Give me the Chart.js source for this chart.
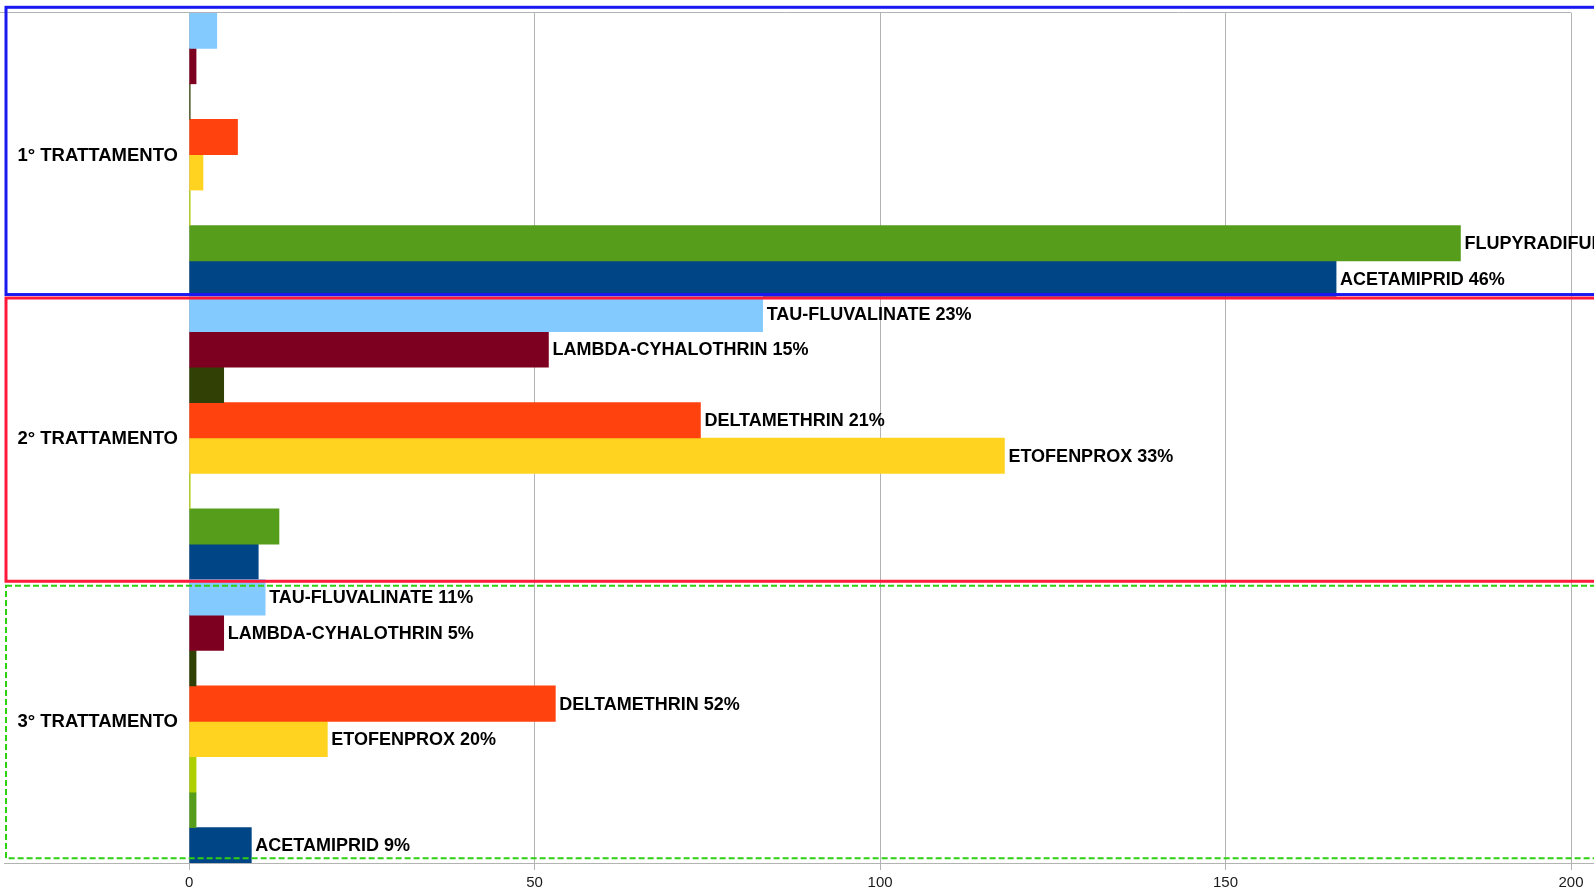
<!DOCTYPE html>
<html>
<head>
<meta charset="utf-8">
<script src="https://cdn.jsdelivr.net/npm/chart.js@4/dist/chart.umd.min.js"></script>
<style>
  html, body { margin: 0; padding: 0; background: #ffffff; }
  #wrap { width: 1594px; height: 889px; position: relative; overflow: hidden; }
</style>
</head>
<body>
<div id="wrap"><canvas id="c" width="1594" height="889"></canvas></div>
<script>
// ---- data ----
const categories = ['1° TRATTAMENTO', '2° TRATTAMENTO', '3° TRATTAMENTO'];
const seriesNames = ['TAU-FLUVALINATE', 'LAMBDA-CYHALOTHRIN', 'SERIE 3', 'DELTAMETHRIN', 'ETOFENPROX', 'SERIE 6', 'FLUPYRADIFURONE', 'ACETAMIPRID'];
const tauFluvalinate    = [4, 83, 11];
const lambdaCyhalothrin = [1, 52, 5];
const serie3            = [0.15, 5, 1];
const deltamethrin      = [7, 74, 53];
const etofenprox        = [2, 118, 20];
const serie6            = [0.15, 0.15, 1];
const flupyradifurone   = [184, 13, 1];
const acetamiprid       = [166, 10, 9];
const tauLabels    = ['', 'TAU-FLUVALINATE 23%', 'TAU-FLUVALINATE 11%'];
const lambdaLabels = ['', 'LAMBDA-CYHALOTHRIN 15%', 'LAMBDA-CYHALOTHRIN 5%'];
const serie3Labels = ['', '', ''];
const deltaLabels  = ['', 'DELTAMETHRIN 21%', 'DELTAMETHRIN 52%'];
const etoLabels    = ['', 'ETOFENPROX 33%', 'ETOFENPROX 20%'];
const serie6Labels = ['', '', ''];
const fluLabels    = ['FLUPYRADIFURONE 51%', '', ''];
const acetLabels   = ['ACETAMIPRID 46%', '', 'ACETAMIPRID 9%'];
const tickValues = [0, 50, 100, 150, 200];

const seriesValues = [tauFluvalinate, lambdaCyhalothrin, serie3, deltamethrin, etofenprox, serie6, flupyradifurone, acetamiprid];
const seriesLabels = [tauLabels, lambdaLabels, serie3Labels, deltaLabels, etoLabels, serie6Labels, fluLabels, acetLabels];
const seriesColors = ['#83CAFF', '#7E0021', '#314004', '#FF420E', '#FFD320', '#AECF00', '#579D1C', '#004586'];

const FONT = "'Liberation Sans', Arial, sans-serif";

const decorPlugin = {
  id: 'decor',
  beforeDatasetsDraw(chart) {
    const ctx = chart.ctx, a = chart.chartArea;
    ctx.save();
    ctx.strokeStyle = '#b3b3b3';
    ctx.lineWidth = 1;
    ctx.beginPath();
    ctx.moveTo(0, Math.round(a.top) - 0.5);
    ctx.lineTo(a.right + 0.5, Math.round(a.top) - 0.5);
    ctx.stroke();
    ctx.restore();
  },
  afterDatasetsDraw(chart) {
    const ctx = chart.ctx;
    ctx.save();
    ctx.font = 'bold 18px ' + FONT;
    ctx.fillStyle = '#000';
    ctx.textBaseline = 'middle';
    ctx.textAlign = 'left';
    chart.data.datasets.forEach((ds, i) => {
      const meta = chart.getDatasetMeta(i);
      meta.data.forEach((el, j) => {
        const t = seriesLabels[i][j];
        if (t) ctx.fillText(t, el.x + 4, el.y + 1);
      });
    });
    ctx.restore();
  },
  afterDraw(chart) {
    const ctx = chart.ctx, a = chart.chartArea;
    const ys = chart.scales.y;
    const band = ys.getPixelForValue(1) - ys.getPixelForValue(0);
    ctx.save();
    // axis line
    ctx.strokeStyle = '#b3b3b3';
    ctx.lineWidth = 1;
    ctx.beginPath();
    ctx.moveTo(a.left, Math.round(a.bottom) + 0.5);
    ctx.lineTo(chart.width, Math.round(a.bottom) + 0.5);
    ctx.stroke();
    // category labels
    ctx.font = 'bold 18.5px ' + FONT;
    ctx.fillStyle = '#000';
    ctx.textAlign = 'right';
    ctx.textBaseline = 'middle';
    categories.forEach((c, j) => {
      ctx.fillText(c, 178, ys.getPixelForValue(j) + 1);
    });
    const tops = categories.map((c, j) => ys.getPixelForValue(j) - band / 2);
    const bots = categories.map((c, j) => ys.getPixelForValue(j) + band / 2);
    const R = chart.width + 20;
    // blue box
    ctx.strokeStyle = '#1a1af0';
    ctx.lineWidth = 3;
    ctx.strokeRect(6, tops[0] - 5.7, R, (bots[0] - 1.8) - (tops[0] - 5.7));
    // red box
    ctx.strokeStyle = '#ff1a3c';
    ctx.lineWidth = 3;
    ctx.strokeRect(6, tops[1] + 1.7, R, (bots[1] + 1.6) - (tops[1] + 1.7));
    // green dashed box
    ctx.strokeStyle = '#2fd012';
    ctx.lineWidth = 2;
    ctx.setLineDash([6, 3]);
    ctx.strokeRect(6, tops[2] + 6, R, (bots[2] - 4.7) - (tops[2] + 6));
    ctx.restore();
  }
};

new Chart(document.getElementById('c'), {
  type: 'bar',
  data: {
    labels: categories,
    datasets: seriesNames.map((n, i) => ({
      label: n,
      data: seriesValues[i],
      backgroundColor: seriesColors[i],
      borderWidth: 0,
      categoryPercentage: 1.0,
      barPercentage: 1.0
    }))
  },
  options: {
    indexAxis: 'y',
    responsive: false,
    animation: false,
    devicePixelRatio: 1,
    layout: { padding: { left: 4, right: 23, top: 13, bottom: 0 } },
    plugins: { legend: { display: false }, tooltip: { enabled: false }, title: { display: false } },
    scales: {
      x: {
        min: -26.8,
        max: 200,
        afterBuildTicks(scale) { scale.ticks = tickValues.map(v => ({ value: v })); },
        afterFit(scale) { scale.height = 26; },
        grid: { color: '#b3b3b3', lineWidth: 1, drawTicks: true, tickLength: 7, tickColor: '#b3b3b3' },
        border: { display: false },
        ticks: { font: { family: FONT, size: 15 }, color: '#1a1a1a', padding: 4, maxRotation: 0 }
      },
      y: {
        display: false
      }
    }
  },
  plugins: [decorPlugin]
});
</script>
</body>
</html>
